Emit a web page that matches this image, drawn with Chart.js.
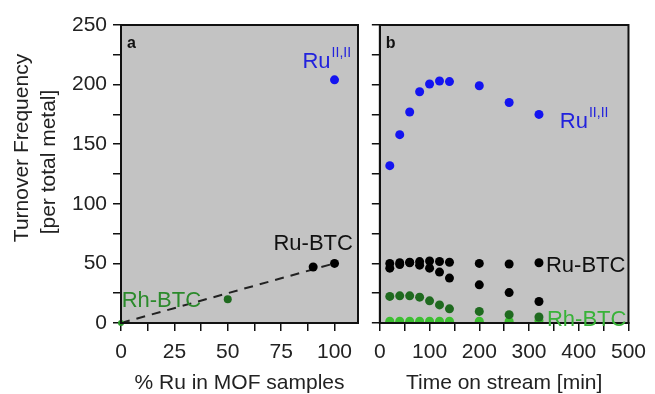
<!DOCTYPE html>
<html>
<head>
<meta charset="utf-8">
<script src="https://cdn.jsdelivr.net/npm/chart.js@4.4.0/dist/chart.umd.min.js"></script>
<style>
  body { margin: 0; background: #fff; }
  #wrap { position: relative; width: 655px; height: 394px; }
  #wrap canvas { position: absolute; top: 0; }
</style>
</head>
<body>
<div id="wrap">
  <canvas id="panelA" width="365" height="394" style="left:0"></canvas>
  <canvas id="panelB" width="290" height="394" style="left:365px"></canvas>
</div>
<script>
// panel a: TOF vs Ru content
const ruIIPercent = [100];
const ruIITofA = [204];
const ruBtcPercent = [90, 100];
const ruBtcTofA = [47, 50];
const rhBtcPercent = [50];
const rhBtcTofA = [20];
const pureRhPercent = [0];
const pureRhTofA = [0];
const fitPercent = [0, 100];
const fitTof = [0, 50];

// panel b: TOF vs time on stream
const timeMin = [20, 40, 60, 80, 100, 120, 140, 200, 260, 320];
const ruIITof = [132, 158, 177, 194, 200.5, 203, 202.5, 199, 185, 175];
const ruBtcTofHigh = [50, 50.5, 51, 51.5, 52, 51.6, 51, 50, 49.5, 50.5];
const ruBtcTofLow = [46, 49, 50.5, 48.5, 46, 42.7, 37.7, 32, 25.5, 18];
const rhBtcTofDark = [22.3, 22.8, 22.8, 21.7, 18.6, 15.2, 11.9, 9.7, 7, 5];
const rhBtcTofLight = [1.5, 1.5, 1.5, 1.5, 1.5, 1.5, 1.5, 1.5, 1.5, 2];

const tofTicks = [0, 50, 100, 150, 200, 250];
const percentTicks = [0, 25, 50, 75, 100];
const timeTicks = [0, 100, 200, 300, 400, 500];

const FONT = '"Liberation Sans", Arial, sans-serif';
const BLUE = '#1414f0';
const DARK_GREEN = '#1f6a1f';
const LIGHT_GREEN = '#3cbf30';

const pts = (xs, ys) => xs.map((x, i) => ({ x: x, y: ys[i] }));

// gray plot area, closed frame, panel letter, in-plot labels
const panelDecor = {
  id: 'panelDecor',
  beforeDraw(chart) {
    const a = chart.chartArea, ctx = chart.ctx;
    ctx.save();
    ctx.fillStyle = '#c3c3c3';
    ctx.fillRect(a.left, a.top, a.right - a.left, a.bottom - a.top);
    ctx.restore();
  },
  afterDraw(chart, args, opts) {
    const a = chart.chartArea, ctx = chart.ctx;
    const xs = chart.scales.x, ys = chart.scales.y;
    ctx.save();
    ctx.strokeStyle = '#111';
    ctx.lineWidth = 2;
    ctx.strokeRect(a.left, a.top, a.right - a.left, a.bottom - a.top);

    ctx.fillStyle = '#111';
    ctx.font = 'bold 16px ' + FONT;
    ctx.textAlign = 'left';
    ctx.textBaseline = 'alphabetic';
    ctx.fillText(opts.letter, a.left + 6, a.top + 23);

    (opts.labels || []).forEach(l => {
      const px = xs.getPixelForValue(l.x), py = ys.getPixelForValue(l.y);
      ctx.font = '22px ' + FONT;
      ctx.fillStyle = l.color;
      ctx.textAlign = l.align || 'left';
      ctx.fillText(l.text, px, py);
      if (l.sup) {
        const w = ctx.measureText(l.text).width;
        const x0 = l.align === 'center' ? px + w / 2 : px + w;
        ctx.font = '14px ' + FONT;
        ctx.textAlign = 'left';
        ctx.fillText(l.sup, x0 + 1, py - 11);
      }
    });

    if (opts.yTitle) {
      ctx.fillStyle = '#222';
      ctx.font = '21px ' + FONT;
      ctx.textAlign = 'center';
      ctx.textBaseline = 'middle';
      opts.yTitle.forEach(t => {
        ctx.save();
        ctx.translate(t.x, t.y);
        ctx.rotate(-Math.PI / 2);
        ctx.fillText(t.text, 0, 0);
        ctx.restore();
      });
    }
    ctx.restore();
  }
};

function axisGrid() {
  return {
    drawOnChartArea: false,
    drawTicks: true,
    tickLength: 8,
    color: '#111',
    lineWidth: 1.5
  };
}
const axisBorder = { display: true, color: '#111', width: 2 };
const tickFont = { family: FONT, size: 21 };

function scatterSet(data, color, radius) {
  return {
    type: 'scatter',
    data: data,
    backgroundColor: color,
    borderColor: color,
    pointRadius: radius,
    pointHoverRadius: radius,
    borderWidth: 0,
    order: 0
  };
}

new Chart(document.getElementById('panelA'), {
  type: 'scatter',
  data: {
    datasets: [
      scatterSet(pts(ruIIPercent, ruIITofA), BLUE, 4.5),
      scatterSet(pts(ruBtcPercent, ruBtcTofA), '#000', 4.5),
      scatterSet(pts(rhBtcPercent, rhBtcTofA), DARK_GREEN, 4),
      Object.assign(scatterSet(pts(pureRhPercent, pureRhTofA), '#2a9a2a', 3), { clip: false }),
      {
        type: 'line',
        data: pts(fitPercent, fitTof),
        borderColor: '#222',
        borderWidth: 2,
        borderDash: [9, 7],
        pointRadius: 0,
        fill: false,
        order: 1
      }
    ]
  },
  options: {
    responsive: false,
    animation: false,
    layout: { padding: { top: 25, right: 7, bottom: 0, left: 0 } },
    plugins: {
      legend: { display: false },
      tooltip: { enabled: false },
      panelDecor: {
        letter: 'a',
        labels: [
          { x: 85, y: 214, text: 'Ru', sup: 'II,II', color: '#2222dd' },
          { x: 90, y: 61.5, text: 'Ru-BTC', color: '#111', align: 'center' },
          { x: 0.3, y: 13.7, text: 'Rh-BTC', color: '#2b8a2b' }
        ],
        yTitle: [
          { x: 22, y: 148, text: 'Turnover Frequency' },
          { x: 49, y: 162, text: '[per total metal]' }
        ]
      }
    },
    scales: {
      x: {
        type: 'linear',
        min: 0,
        max: 111,
        grid: axisGrid(),
        border: axisBorder,
        ticks: {
          stepSize: 12.5,
          includeBounds: false,
          autoSkip: false,
          maxRotation: 0,
          padding: 9,
          color: '#222',
          font: tickFont,
          callback: v => percentTicks.includes(v) ? v : ''
        },
        title: {
          display: true,
          text: '% Ru in MOF samples',
          color: '#222',
          font: { family: FONT, size: 21 },
          padding: { top: 0, bottom: -2 }
        },
        afterFit: s => { s.height = 71; }
      },
      y: {
        type: 'linear',
        min: 0,
        max: 250,
        grid: axisGrid(),
        border: axisBorder,
        ticks: {
          stepSize: 25,
          autoSkip: false,
          padding: 6,
          color: '#222',
          font: tickFont,
          callback: v => tofTicks.includes(v) ? v : ''
        },
        afterFit: s => { s.width = 121; }
      }
    }
  },
  plugins: [panelDecor]
});

new Chart(document.getElementById('panelB'), {
  type: 'scatter',
  data: {
    datasets: [
      scatterSet(pts(timeMin, ruIITof), BLUE, 4.5),
      scatterSet(pts(timeMin, ruBtcTofHigh), '#000', 4.5),
      scatterSet(pts(timeMin, ruBtcTofLow), '#000', 4.5),
      scatterSet(pts(timeMin, rhBtcTofDark), DARK_GREEN, 4.5),
      scatterSet(pts(timeMin, rhBtcTofLight), LIGHT_GREEN, 4.5)
    ]
  },
  options: {
    responsive: false,
    animation: false,
    layout: { padding: { top: 25, right: 22, bottom: 0, left: 0 } },
    plugins: {
      legend: { display: false },
      tooltip: { enabled: false },
      panelDecor: {
        letter: 'b',
        labels: [
          { x: 362, y: 163.7, text: 'Ru', sup: 'II,II', color: '#2222dd' },
          { x: 334, y: 43, text: 'Ru-BTC', color: '#111' },
          { x: 336, y: -2.3, text: 'Rh-BTC', color: '#38b238' }
        ]
      }
    },
    scales: {
      x: {
        type: 'linear',
        min: 0,
        max: 500,
        grid: axisGrid(),
        border: axisBorder,
        ticks: {
          stepSize: 50,
          autoSkip: false,
          maxRotation: 0,
          padding: 9,
          color: '#222',
          font: tickFont,
          callback: v => timeTicks.includes(v) ? v : ''
        },
        title: {
          display: true,
          text: 'Time on stream [min]',
          color: '#222',
          font: { family: FONT, size: 21 },
          padding: { top: 0, bottom: -2 }
        },
        afterFit: s => { s.height = 71; }
      },
      y: {
        type: 'linear',
        min: 0,
        max: 250,
        grid: axisGrid(),
        border: axisBorder,
        ticks: {
          stepSize: 25,
          autoSkip: false,
          padding: 0,
          callback: () => ''
        },
        afterFit: s => { s.width = 10; }
      }
    }
  },
  plugins: [panelDecor]
});
</script>
</body>
</html>
